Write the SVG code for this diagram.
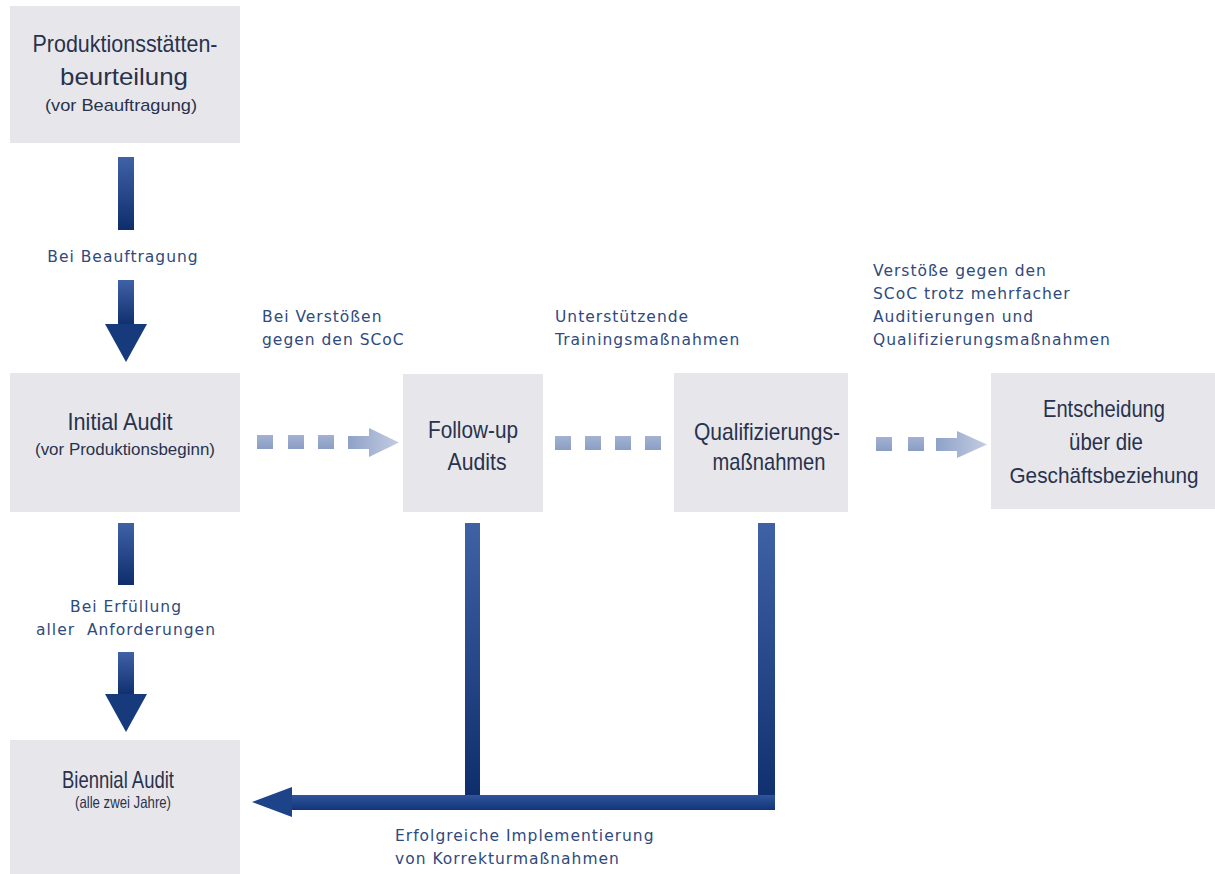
<svg xmlns="http://www.w3.org/2000/svg" width="1215" height="874" viewBox="0 0 1215 874">
  <defs>
    <linearGradient id="barV" x1="0" y1="0" x2="0" y2="1">
      <stop offset="0" stop-color="#3f62a6"/>
      <stop offset="1" stop-color="#0e2d6c"/>
    </linearGradient>
    <linearGradient id="barH" x1="0" y1="0" x2="0" y2="1">
      <stop offset="0" stop-color="#2f559a"/>
      <stop offset="1" stop-color="#12347a"/>
    </linearGradient>
    <linearGradient id="dot" x1="0" y1="0" x2="0" y2="1">
      <stop offset="0" stop-color="#a3b2d2"/>
      <stop offset="1" stop-color="#8a9dc4"/>
    </linearGradient>
    <linearGradient id="dotArrow" x1="0" y1="0" x2="1" y2="0">
      <stop offset="0" stop-color="#8ea1c8"/>
      <stop offset="1" stop-color="#c3cde2"/>
    </linearGradient>
    <style>
      .box { fill: #e7e7eb; }
      .t { font-family: "Liberation Sans", Arial, sans-serif; fill: #29324d; text-anchor: middle; }
      .big { font-size: 24px; }
      .small { font-size: 17px; }
      .lbl { font-family: "DejaVu Sans", Verdana, sans-serif; font-size: 15.5px; letter-spacing: 1px; fill: #2f4a7d; white-space: pre; }
      .c { text-anchor: middle; }
      .bar { fill: url(#barV); }
      .sq { fill: url(#dot); }
      .da { fill: url(#dotArrow); }
    </style>
  </defs>

  <rect width="1215" height="874" fill="#ffffff"/>

  <!-- process steps (condensed lettering via textLength) -->
  <g id="node-produktionsstaetten">
    <rect class="box" x="10" y="6" width="230" height="137"/>
    <text class="t big" x="125" y="52" textLength="185" lengthAdjust="spacingAndGlyphs">Produktionsstätten-</text>
    <text class="t big" x="124" y="85" textLength="128" lengthAdjust="spacingAndGlyphs">beurteilung</text>
    <text class="t small" x="121" y="111" textLength="152" lengthAdjust="spacingAndGlyphs">(vor Beauftragung)</text>
  </g>

  <g id="node-initial-audit">
    <rect class="box" x="10" y="373" width="230" height="139"/>
    <text class="t big" x="120" y="430" textLength="105" lengthAdjust="spacingAndGlyphs">Initial Audit</text>
    <text class="t small" x="125" y="455" textLength="180" lengthAdjust="spacingAndGlyphs">(vor Produktionsbeginn)</text>
  </g>

  <g id="node-follow-up">
    <rect class="box" x="403" y="374" width="140" height="138"/>
    <text class="t big" x="473" y="438" textLength="90" lengthAdjust="spacingAndGlyphs">Follow-up</text>
    <text class="t big" x="477" y="470" textLength="59" lengthAdjust="spacingAndGlyphs">Audits</text>
  </g>

  <g id="node-qualifizierung">
    <rect class="box" x="674" y="373" width="174" height="139"/>
    <text class="t big" x="767" y="440" textLength="146" lengthAdjust="spacingAndGlyphs">Qualifizierungs-</text>
    <text class="t big" x="769" y="470" textLength="113" lengthAdjust="spacingAndGlyphs">maßnahmen</text>
  </g>

  <g id="node-entscheidung">
    <rect class="box" x="991" y="373" width="224" height="136"/>
    <text class="t big" x="1104" y="417" textLength="122" lengthAdjust="spacingAndGlyphs">Entscheidung</text>
    <text class="t big" x="1106" y="450" textLength="74" lengthAdjust="spacingAndGlyphs">über die</text>
    <text class="t" font-size="22" x="1104" y="483" textLength="189" lengthAdjust="spacingAndGlyphs">Geschäftsbeziehung</text>
  </g>

  <g id="node-biennial-audit">
    <rect class="box" x="10" y="740" width="230" height="134"/>
    <text class="t big" x="118" y="788" textLength="112" lengthAdjust="spacingAndGlyphs">Biennial Audit</text>
    <text class="t" font-size="16.5" x="123" y="808" textLength="96" lengthAdjust="spacingAndGlyphs">(alle zwei Jahre)</text>
  </g>

  <!-- connectors -->
  <g id="connectors">
    <!-- Produktionsstättenbeurteilung -> Initial Audit -->
    <rect class="bar" x="118" y="157" width="16" height="73"/>
    <rect class="bar" x="118" y="280" width="16" height="46"/>
    <polygon fill="#163a7c" points="105,324 147,324 126,362"/>

    <!-- Initial Audit -> Biennial Audit -->
    <rect class="bar" x="118" y="523" width="16" height="62"/>
    <rect class="bar" x="118" y="652" width="16" height="44"/>
    <polygon fill="#163a7c" points="105,694 147,694 126,732"/>

    <!-- Initial Audit -> Follow-up Audits (dotted) -->
    <rect class="sq" x="257" y="435" width="16" height="14"/>
    <rect class="sq" x="288" y="435" width="16" height="14"/>
    <rect class="sq" x="318" y="435" width="16" height="14"/>
    <polygon class="da" points="348,436 369,436 369,428 399,442.5 369,457 369,449 348,449"/>

    <!-- Follow-up Audits -> Qualifizierungsmaßnahmen (dotted) -->
    <rect class="sq" x="555" y="436" width="16" height="14"/>
    <rect class="sq" x="585" y="436" width="16" height="14"/>
    <rect class="sq" x="615" y="436" width="16" height="14"/>
    <rect class="sq" x="645" y="436" width="16" height="14"/>

    <!-- Qualifizierungsmaßnahmen -> Entscheidung (dotted) -->
    <rect class="sq" x="876" y="437" width="16" height="14"/>
    <rect class="sq" x="908" y="437" width="16" height="14"/>
    <polygon class="da" points="936,438 957,438 957,431 987,444.5 957,458 957,451 936,451"/>

    <!-- return path to Biennial Audit -->
    <rect class="bar" x="465" y="523" width="15" height="274"/>
    <rect class="bar" x="758" y="523" width="17" height="287"/>
    <rect fill="url(#barH)" x="290" y="795" width="485" height="15"/>
    <polygon fill="#1d4388" points="252,802 292,787 292,817"/>
  </g>

  <!-- connector labels -->
  <g id="labels">
    <text class="lbl c" x="123" y="262">Bei Beauftragung</text>
    <text class="lbl c" x="126" y="612">Bei Erfüllung</text>
    <text class="lbl c" x="126" y="635">aller  Anforderungen</text>
    <text class="lbl" x="262" y="322">Bei Verstößen</text>
    <text class="lbl" x="262" y="345">gegen den SCoC</text>
    <text class="lbl" x="555" y="322">Unterstützende</text>
    <text class="lbl" x="555" y="345">Trainingsmaßnahmen</text>
    <text class="lbl" x="873" y="276">Verstöße gegen den</text>
    <text class="lbl" x="873" y="299">SCoC trotz mehrfacher</text>
    <text class="lbl" x="873" y="322">Auditierungen und</text>
    <text class="lbl" x="873" y="345">Qualifizierungsmaßnahmen</text>
    <text class="lbl" x="395" y="841">Erfolgreiche Implementierung</text>
    <text class="lbl" x="395" y="864">von Korrekturmaßnahmen</text>
  </g>
</svg>
